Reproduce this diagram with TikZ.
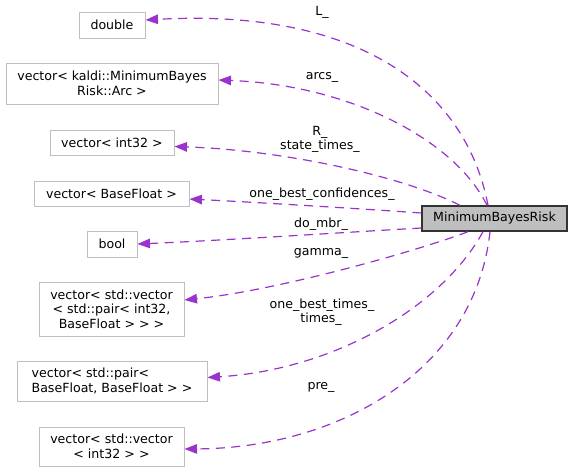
\documentclass[tikz,border=0pt]{standalone}
\usepackage{fontspec}
\setmainfont{DejaVu Sans}
\usetikzlibrary{arrows.meta}
\definecolor{edgec}{HTML}{9A32CD}
\definecolor{boxc}{HTML}{BFBFBF}
\begin{document}
\begin{tikzpicture}[x=1pt,y=-1pt,
  every node/.style={font=\fontsize{12.6}{14.5}\selectfont, inner sep=0pt},
  box/.style={draw=boxc, line width=1pt, align=center},
  mainbox/.style={draw=black!80, fill=boxc, line width=1.4pt},
  lbl/.style={anchor=base},
  rel/.style={draw=edgec, line width=1.2pt, dash pattern=on 9pt off 6.5pt, -{Triangle[length=12.5pt,width=9.5pt]}}]
\useasboundingbox (0,0) rectangle (573,472);

\node[box, minimum width=66pt, minimum height=26pt] (dbl) at (112,25) {double};
\node[box, minimum width=212pt, minimum height=41pt] (arcs) at (112,83.5) {vector< kaldi::MinimumBayes\\Risk::Arc >};
\node[box, minimum width=124pt, minimum height=25pt] (i32) at (112,142.5) {vector< int32 >};
\node[box, minimum width=155pt, minimum height=25pt] (bf) at (111.5,193.5) {vector< BaseFloat >};
\node[box, minimum width=50pt, minimum height=26pt] (bool) at (112,244) {bool};
\node[box, minimum width=145pt, minimum height=54pt] (gam) at (111.5,309) {vector< std::vector\\< std::pair< int32,\\BaseFloat > > >};
\node[box, align=left, minimum width=190pt, minimum height=40pt] (pr) at (112,381) {vector< std::pair<\\BaseFloat, BaseFloat > >};
\node[box, minimum width=145pt, minimum height=39pt] (pre) at (111.5,446.5) {vector< std::vector\\< int32 > >};
\node[mainbox, minimum width=145pt, minimum height=25pt] (mbr) at (494.5,218.5) {MinimumBayesRisk};

\node[lbl] (lL) at (322,15) {L\_};
\node[lbl] (lA) at (322,79) {arcs\_};
\node[lbl] (lR) at (320,135) {R\_};
\node[lbl] (lS) at (320,149.5) {state\_times\_};
\node[lbl] (lC) at (322,197) {one\_best\_confidences\_};
\node[lbl] (lD) at (321,227) {do\_mbr\_};
\node[lbl] (lG) at (321,255) {gamma\_};
\node[lbl] (lO) at (322,308) {one\_best\_times\_};
\node[lbl] (lT) at (321,322.5) {times\_};
\node[lbl] (lP) at (321,389) {pre\_};

\draw[rel] ([xshift=-6.5pt]mbr.north) .. controls (466,90) and (360,8) .. ([yshift=5pt]dbl.east);
\draw[rel] ([xshift=-7.5pt]mbr.north) .. controls (455,140) and (350,85) .. ([yshift=3.5pt]arcs.east);
\draw[rel] ([xshift=-34.5pt]mbr.north) .. controls (400,175) and (280,150) .. ([yshift=-4pt]i32.east);
\draw[rel] ([yshift=5.5pt]mbr.west) .. controls (350,208) and (250,202) .. ([yshift=-5.5pt]bf.east);
\draw[rel] ([yshift=-9.5pt]mbr.west) .. controls (350,232) and (230,240) .. (bool.east);
\draw[rel] ([xshift=-26.5pt]mbr.south) .. controls (420,250) and (280,290) .. ([yshift=9pt]gam.east);
\draw[rel] ([xshift=-11.5pt]mbr.south) .. controls (440,310) and (330,370) .. ([yshift=3.5pt]pr.east);
\draw[rel] ([xshift=-4.5pt]mbr.south) .. controls (475,370) and (340,448) .. ([yshift=-2.5pt]pre.east);
\end{tikzpicture}
\end{document}
